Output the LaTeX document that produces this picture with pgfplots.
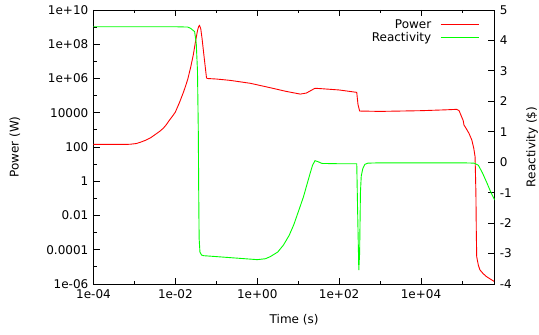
\documentclass[border=0pt]{standalone}
\usepackage{pgfplots}
\pgfplotsset{compat=1.18}
\usepackage{fontspec}
\setmainfont{DejaVu Sans}
\definecolor{pred}{RGB}{255,0,0}
\definecolor{rgreen}{RGB}{0,255,0}
\begin{document}
\fontsize{12pt}{14pt}\selectfont
\begin{tikzpicture}
\path[use as bounding box] (-93.5pt,-51pt) rectangle (445.5pt,284pt);
\begin{axis}[
  scale only axis, width=401.2pt, height=274pt,
  xmode=log, ymode=log,
  xmin=1e-4, xmax=6.3e5, ymin=1e-6, ymax=1e10,
  axis line style={line width=0.8pt},
  every tick/.style={black, line width=0.8pt},
  tick align=inside,
  major tick length=6.5pt, minor tick length=3.5pt,
  xtick={1e-4,1e-2,1,1e2,1e4},
  xticklabels={1e-04,1e-02,1e+00,1e+02,1e+04},
  minor xtick={1e-3,1e-1,1e1,1e3,1e5},
  ytick={1e-6,1e-4,1e-2,1,1e2,1e4,1e6,1e8,1e10},
  yticklabels={1e-06,0.0001,0.01,1,100,10000,1e+06,1e+08,1e+10},
  minor ytick={1e-5,1e-3,1e-1,1e1,1e3,1e5,1e7,1e9},
  ytick pos=left,
  xtick pos=both,
  xticklabel style={yshift=-1pt},
  yticklabel style={xshift=-1pt},
  xlabel={Time (s)},
  ylabel={Power (W)},
  every axis x label/.style={at={(axis description cs:0.5,-0.1314)}, anchor=center},
  every axis y label/.style={at={(axis description cs:-0.1957,0.5)}, anchor=center, rotate=90},
]
\addplot[pred, line width=0.9pt] coordinates {
(1e-4,141) (3.16e-4,141) (6.3e-4,142) (7.94e-4,145) (1.12e-3,160) (1.41e-3,191) (1.9e-3,250) (2.45e-3,339) (3.55e-3,631)
(4.3e-3,880) (5.13e-3,1288) (6.0e-3,2000) (7.08e-3,3548) (8.5e-3,6300) (1e-2,1.1e4) (1.26e-2,3.98e4) (1.58e-2,1.62e5)
(1.8e-2,4.0e5) (2.0e-2,8.9e5) (2.34e-2,4.07e6) (2.75e-2,2.51e7) (3.09e-2,1.35e8) (3.47e-2,6.31e8)
(3.72e-2,1.12e9) (3.89e-2,1.26e9) (4.17e-2,7.94e8) (4.47e-2,2.29e8) (5.01e-2,2.0e7)
(5.75e-2,1.12e6) (6.03e-2,1.0e6) (0.1,9.33e5) (0.219,7.76e5) (0.676,5.25e5)
(2.09,2.88e5) (5.01,1.78e5) (11.2,1.23e5) (15.8,1.41e5) (25.7,2.69e5) (39.8,2.51e5)
(100,2.14e5) (269,1.55e5) (288,3.16e4) (316,1.26e4) (1000,1.2e4) (1e4,1.32e4)
(3.98e4,1.48e4) (7.41e4,1.58e4) (8.51e4,1.32e4) (9.77e4,5.89e3) (1.07e5,3.55e3)
(1.12e5,1.91e3) (1.26e5,1.23e3) (1.48e5,631) (1.74e5,257) (1.95e5,79.4) (2.09e5,26.9)
(2.19e5,0.204) (2.24e5,1e-3) (2.29e5,3.89e-5) (2.51e5,1.26e-5) (2.75e5,6.61e-6)
(3.31e5,3.98e-6) (3.98e5,2.69e-6) (6.3e5,1.35e-6)
};
\end{axis}
\begin{axis}[
  scale only axis, width=401.2pt, height=274pt,
  xmode=log,
  xmin=1e-4, xmax=6.3e5, ymin=-4, ymax=5,
  axis x line=none,
  axis y line*=right,
  axis line style={line width=0.8pt, -},
  every tick/.style={black, line width=0.8pt},
  tick align=inside,
  major tick length=6.5pt,
  ytick={-4,-3,-2,-1,0,1,2,3,4,5},
  yticklabels={-4,-3,-2,-1,0,1,2,3,4,5},
  yticklabel style={xshift=1pt},
  ylabel={Reactivity (\$)},
  every axis y label/.style={at={(axis description cs:1.093,0.5)}, anchor=center, rotate=90},
  legend plot pos=right,
  legend cell align=right,
  legend style={draw=none, fill=none, at={(axis description cs:0.9617,0.9697)}, anchor=north east,
    inner sep=0pt, column sep=8pt, row sep=0pt, nodes={inner sep=1pt}},
  legend image code/.code={\draw[#1] (0pt,0pt) -- (38pt,0pt);},
]
\addlegendimage{pred, line width=0.9pt}
\addlegendentry{Power}
\addplot[rgreen, line width=0.9pt] coordinates {
(1e-4,4.45) (0.01,4.45) (0.01995,4.44) (0.02344,4.40) (0.02951,4.29) (0.03236,3.9)
(0.03467,3.0) (0.03631,1.0) (0.03715,-1.0) (0.03802,-2.5) (0.03981,-2.95) (0.04365,-3.05)
(0.04898,-3.07) (0.1,-3.10) (0.3162,-3.15) (1,-3.20) (1.585,-3.17) (2.089,-3.10)
(3.162,-2.95) (4.365,-2.72) (6.026,-2.4) (7.762,-2.06) (10.23,-1.6) (13.49,-1.13)
(16.6,-0.7) (19.5,-0.37) (22.39,-0.1) (25.7,0.05) (30.2,0.02) (38.02,-0.04)
(100,-0.05) (269.2,-0.05) (281.8,-1.5) (302,-3.54) (316.2,-3.0) (331.1,-1.0)
(346.7,-0.45) (380.2,-0.2) (426.6,-0.07) (501.2,-0.03) (1000,-0.02) (1e4,-0.02)
(1e5,-0.02) (1.995e5,-0.03) (2.512e5,-0.1) (3.162e5,-0.35) (3.981e5,-0.65)
(5.012e5,-0.97) (6.3e5,-1.24)
};
\addlegendentry{Reactivity}
\end{axis}
\end{tikzpicture}
\end{document}
